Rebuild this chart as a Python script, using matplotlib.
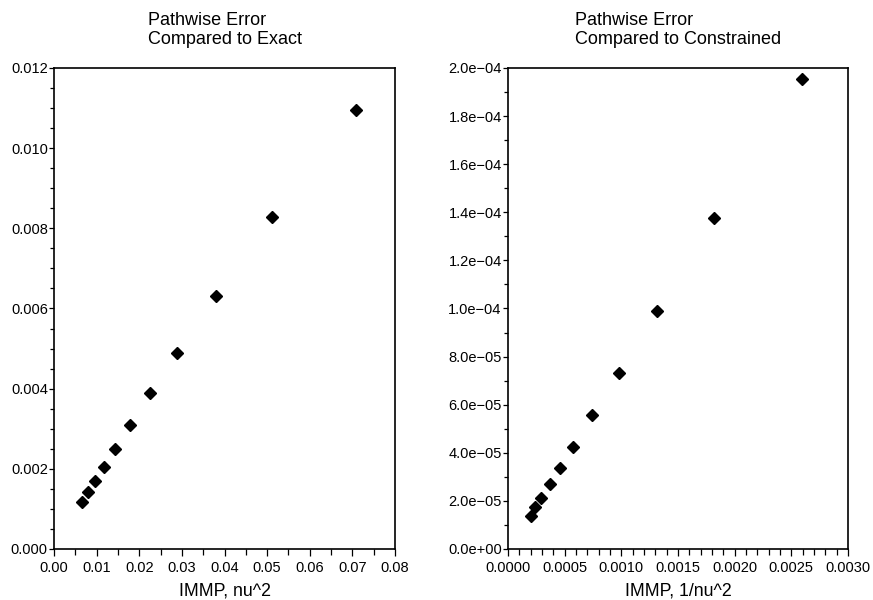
import numpy as np
import matplotlib
matplotlib.use('Agg')
import matplotlib.pyplot as plt
from matplotlib.ticker import MultipleLocator, FuncFormatter

plt.rcParams['font.family'] = ['Liberation Sans', 'DejaVu Sans']
plt.rcParams['font.size'] = 10.5

# Left panel: error compared to exact
exact_x = [0.00657, 0.0079, 0.0096, 0.01166, 0.0143, 0.0178,
           0.0226, 0.0289, 0.0381, 0.0512, 0.0708]
exact_y = [0.00118, 0.00141, 0.0017, 0.00205, 0.0025, 0.0031,
           0.00388, 0.0049, 0.00632, 0.00828, 0.01094]

# Right panel: error compared to constrained
constr_x = [0.000203, 0.000241, 0.000294, 0.000368, 0.000456, 0.000576,
            0.000744, 0.000979, 0.001315, 0.00182, 0.00259]
constr_y = [1.385e-5, 1.76e-5, 2.13e-5, 2.69e-5, 3.38e-5, 4.25e-5,
            5.57e-5, 7.32e-5, 9.9e-5, 1.375e-4, 1.954e-4]


def style_axes(ax):
    for s in ax.spines.values():
        s.set_linewidth(1.2)
    ax.tick_params(which='both', direction='out', top=False, right=False,
                   width=0.9)
    ax.tick_params(axis='x', which='major', length=5, pad=4)
    ax.tick_params(axis='x', which='minor', length=4)
    ax.tick_params(axis='y', which='major', length=3.7, pad=0.8)
    ax.tick_params(axis='y', which='minor', length=2.7)


def sci(v, pos):
    return f"{v:.1e}".replace('-', '\u2212')


fig = plt.figure(figsize=(8.73, 6.0), dpi=100)

ax1 = fig.add_axes([0.0619, 0.085, 0.3906, 0.8017])
ax1.plot(exact_x, exact_y, 'D', color='black', markersize=6.3, linestyle='none')
ax1.set_xlim(0, 0.08)
ax1.set_ylim(0, 0.012)
ax1.xaxis.set_major_locator(MultipleLocator(0.01))
ax1.xaxis.set_minor_locator(MultipleLocator(0.005))
ax1.yaxis.set_major_locator(MultipleLocator(0.002))
ax1.yaxis.set_minor_locator(MultipleLocator(0.0005))
ax1.xaxis.set_major_formatter(FuncFormatter(lambda v, p: f"{v:.2f}"))
ax1.yaxis.set_major_formatter(FuncFormatter(lambda v, p: f"{v:.3f}"))
ax1.set_xlabel('IMMP, nu^2', fontsize=12.8, labelpad=5)
ax1.set_title('Pathwise Error\nCompared to Exact', ma='left', pad=17,
              fontsize=13, linespacing=1.2)
style_axes(ax1)

ax2 = fig.add_axes([0.5819, 0.085, 0.3895, 0.8017])
ax2.plot(constr_x, constr_y, 'D', color='black', markersize=6.3, linestyle='none')
ax2.set_xlim(0, 0.003)
ax2.set_ylim(0, 2.0e-4)
ax2.xaxis.set_major_locator(MultipleLocator(0.0005))
ax2.xaxis.set_minor_locator(MultipleLocator(0.0001))
ax2.yaxis.set_major_locator(MultipleLocator(2e-5))
ax2.yaxis.set_minor_locator(MultipleLocator(1e-5))
ax2.xaxis.set_major_formatter(FuncFormatter(lambda v, p: f"{v:.4f}"))
ax2.yaxis.set_major_formatter(FuncFormatter(sci))
ax2.set_xlabel('IMMP, 1/nu^2', fontsize=12.8, labelpad=5)
ax2.set_title('Pathwise Error\nCompared to Constrained', ma='left', pad=17,
              fontsize=13, linespacing=1.2)
style_axes(ax2)

plt.savefig('out.png', dpi=100)
